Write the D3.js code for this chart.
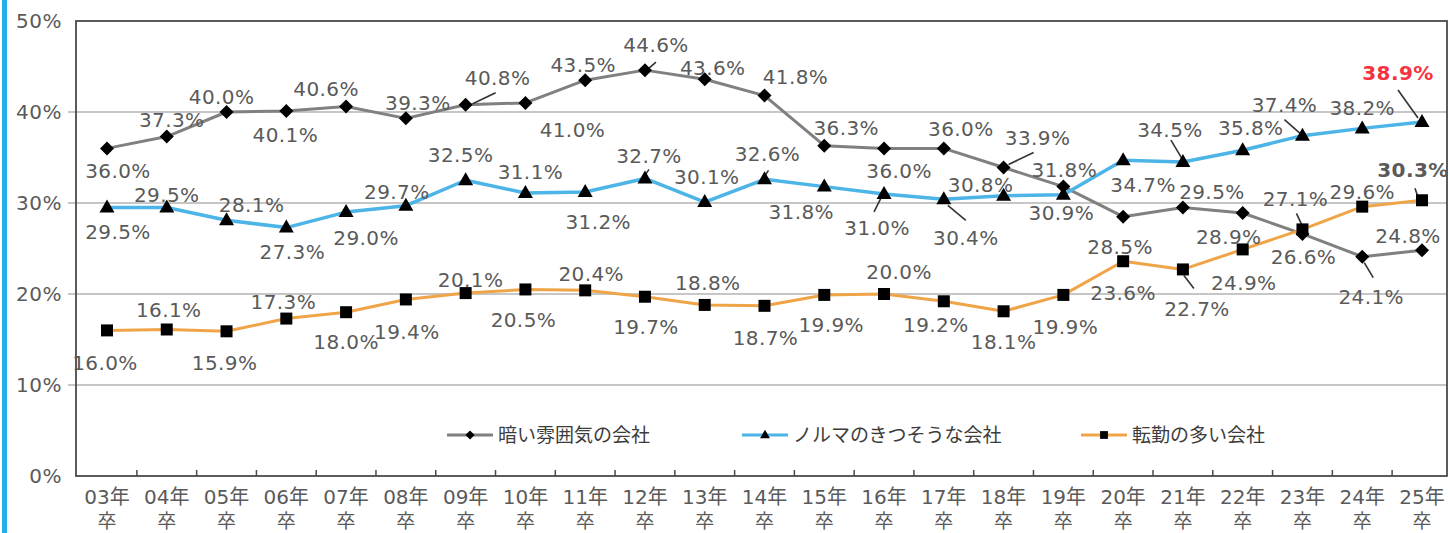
<!DOCTYPE html>
<html><head><meta charset="utf-8">
<script src="https://cdn.jsdelivr.net/npm/d3@7"></script>
<style>html,body{margin:0;padding:0;background:#fff;}svg{display:block;}</style>
</head><body>
<svg id="chart" width="1450" height="533"></svg>
<script>
// ---------- data ----------
const categories = ["03","04","05","06","07","08","09","10","11","12","13","14","15","16","17","18","19","20","21","22","23","24","25"];
const categoryLine1 = categories.map(c => c + "年");
const categoryLine2 = "卒";
const seriesNames = ["暗い雰囲気の会社", "ノルマのきつそうな会社", "転勤の多い会社"];
const darkAtmosphere = [36.0,37.3,40.0,40.1,40.6,39.3,40.8,41.0,43.5,44.6,43.6,41.8,36.3,36.0,36.0,33.9,31.8,28.5,29.5,28.9,26.6,24.1,24.8];
const harshQuota     = [29.5,29.5,28.1,27.3,29.0,29.7,32.5,31.1,31.2,32.7,30.1,32.6,31.8,31.0,30.4,30.8,30.9,34.7,34.5,35.8,37.4,38.2,38.9];
const manyTransfers  = [16.0,16.1,15.9,17.3,18.0,19.4,20.1,20.5,20.4,19.7,18.8,18.7,19.9,20.0,19.2,18.1,19.9,23.6,22.7,24.9,27.1,29.6,30.3];
const yTickValues = [0,10,20,30,40,50];

// ---------- label placement (offsets from the point) ----------
const darkOffsets = [[11,22],[5,-17],[-5,-15],[-1,24],[-20,-18],[12,-16],[32,-27],[47,27],[-2,-15],[11,-25],[8,-11],[31,-19],[22,-18],[15,22],[17,-20],[34,-30],[1,-17],[-3,30],[29,-16],[-14,24],[1,23],[9,40],[-14,-15]];
const darkLeaders = {6:[30,-12,7,-1], 9:[11,-8,3,-1], 15:[30,-15,5,-3], 21:[11,21,2,6]};
const quotaOffsets = [[11,24],[0,-13],[25,-15],[6,24],[20,26],[-9,-14],[-5,-25],[5,-21],[13,30],[4,-23],[2,-25],[3,-26],[-23,25],[-7,34],[22,38],[-23,-11],[-2,18],[20,25],[-13,-32],[8,-22],[-18,-31],[0,-21],[-24,-49]];
const quotaLeaders = {9:[4,-9,0,-3], 11:[4,-9,0,-3], 13:[-10,18,-3,4], 14:[22,21,4,6], 18:[-12,-22,0,-2], 20:[-18,-16,-1,-1], 22:[-24,-32,-4,-4]};
const transferOffsets = [[-2,32],[2,-20],[-2,31],[-3,-17],[0,30],[1,32],[5,-13],[-2,30],[6,-17],[1,30],[3,-22],[1,32],[7,30],[15,-22],[-8,24],[0,31],[2,32],[0,32],[14,39],[1,33],[-7,-31],[0,-15],[-9,-30]];
const transferLeaders = {18:[11,19,1,6], 20:[-6,-16,1,-1], 22:[-7,-12,-4,-3]};

// ---------- layout ----------
const svg = d3.select("#chart");
const plotLeft = 76, plotRight = 1447, plotTop = 21, plotBottom = 476;
const x = d3.scalePoint().domain(categories).range([107, 1422]);
const y = d3.scaleLinear().domain([0, 50]).range([plotBottom, plotTop]);
const step = x.step();
const numFont = "'DejaVu Sans','Noto Sans CJK JP',sans-serif";
const labelColor = "#5a5a5a";

// left cyan bar
svg.append("rect").attr("x", 2).attr("y", 0).attr("width", 5).attr("height", 533).attr("fill", "#22aee8");

// gridlines
svg.append("g").selectAll("line").data(yTickValues.filter(v => v > 0 && v < 50)).join("line")
  .attr("x1", plotLeft - 8).attr("x2", plotRight).attr("y1", d => y(d)).attr("y2", d => y(d))
  .attr("stroke", "#b3b3b3").attr("stroke-width", 1.3);

// frame
svg.append("rect").attr("x", plotLeft).attr("y", plotTop).attr("width", plotRight - plotLeft).attr("height", plotBottom - plotTop)
  .attr("fill", "none").attr("stroke", "#4a4a4a").attr("stroke-width", 1.8);

// y axis labels
const yAxis = d3.axisLeft(y).tickValues(yTickValues).tickFormat(d => d + "%").tickSize(0).tickPadding(14);
const gy = svg.append("g").attr("transform", `translate(${plotLeft},0)`).call(yAxis);
gy.select(".domain").remove();
gy.selectAll("text").attr("font-family", numFont).attr("font-size", 20).attr("fill", labelColor).attr("letter-spacing", 0.5);

// x ticks at category boundaries
svg.append("g").selectAll("line").data(categories.slice(0, -1)).join("line")
  .attr("x1", d => x(d) + step / 2).attr("x2", d => x(d) + step / 2)
  .attr("y1", plotBottom).attr("y2", plotBottom - 6).attr("stroke", "#4a4a4a").attr("stroke-width", 1.5);

// x labels
const xl = svg.append("g").selectAll("g").data(categories).join("g").attr("transform", d => `translate(${x(d)},0)`);
xl.append("text").attr("y", 504).attr("text-anchor", "middle").attr("font-family", numFont).attr("font-size", 20)
  .attr("fill", labelColor).text((d, i) => categoryLine1[i]);
xl.append("text").attr("y", 528).attr("text-anchor", "middle").attr("font-family", numFont).attr("font-size", 19)
  .attr("fill", labelColor).text(categoryLine2);

// series
const series = [
  {name: seriesNames[0], values: darkAtmosphere, color: "#808080", width: 3, marker: "diamond", offsets: darkOffsets, leaders: darkLeaders},
  {name: seriesNames[1], values: harshQuota, color: "#4cb4e7", width: 3.5, marker: "triangle", offsets: quotaOffsets, leaders: quotaLeaders},
  {name: seriesNames[2], values: manyTransfers, color: "#f0a448", width: 3, marker: "square", offsets: transferOffsets, leaders: transferLeaders}
];

function markerPath(type, s) {
  if (type === "diamond") return `M0,${-7*s}L${7*s},0L0,${7*s}L${-7*s},0Z`;
  if (type === "triangle") return `M0,${-8*s}L${7.5*s},${5*s}L${-7.5*s},${5*s}Z`;
  return `M${-6*s},${-6*s}H${6*s}V${6*s}H${-6*s}Z`;
}

const line = d3.line().x((d, i) => x(categories[i])).y(d => y(d));
series.forEach(s => {
  svg.append("path").datum(s.values).attr("d", line).attr("fill", "none")
    .attr("stroke", s.color).attr("stroke-width", s.width).attr("stroke-linejoin", "round");
});

// leaders
series.forEach(s => {
  Object.entries(s.leaders).forEach(([i, L]) => {
    const px = x(categories[+i]), py = y(s.values[+i]);
    svg.append("line").attr("x1", px + L[0]).attr("y1", py + L[1]).attr("x2", px + L[2]).attr("y2", py + L[3])
      .attr("stroke", "#333").attr("stroke-width", 1.6);
  });
});

// markers
series.forEach(s => {
  svg.append("g").selectAll("path").data(s.values).join("path")
    .attr("transform", (d, i) => `translate(${x(categories[i])},${y(d)})`)
    .attr("d", markerPath(s.marker, 1)).attr("fill", "#000");
});

// value labels
series.forEach((s, si) => {
  svg.append("g").selectAll("text").data(s.values).join("text")
    .attr("x", (d, i) => x(categories[i]) + s.offsets[i][0])
    .attr("y", (d, i) => y(d) + s.offsets[i][1])
    .attr("dy", "0.36em").attr("text-anchor", "middle")
    .attr("font-family", numFont).attr("font-size", 20).attr("letter-spacing", 0.4)
    .attr("fill", (d, i) => (si === 1 && i === s.values.length - 1) ? "#f5333f" : labelColor)
    .attr("font-weight", (d, i) => (i === s.values.length - 1 && si !== 0) ? "bold" : "normal")
    .text(d => d.toFixed(1) + "%");
});

// legend
const legendX = [447, 742, 1081];
const lg = svg.append("g").selectAll("g").data(series).join("g").attr("transform", (d, i) => `translate(${legendX[i]},435)`);
lg.append("line").attr("x1", 0).attr("x2", 46).attr("stroke", d => d.color).attr("stroke-width", 3);
lg.append("path").attr("transform", "translate(23,0)").attr("d", d => markerPath(d.marker, 0.65)).attr("fill", "#000");
lg.append("text").attr("x", 51).attr("dy", "0.35em").attr("font-family", "'Noto Sans CJK JP',sans-serif")
  .attr("font-size", 19).attr("fill", "#3c3c3c").text(d => d.name);
</script>
</body></html>
